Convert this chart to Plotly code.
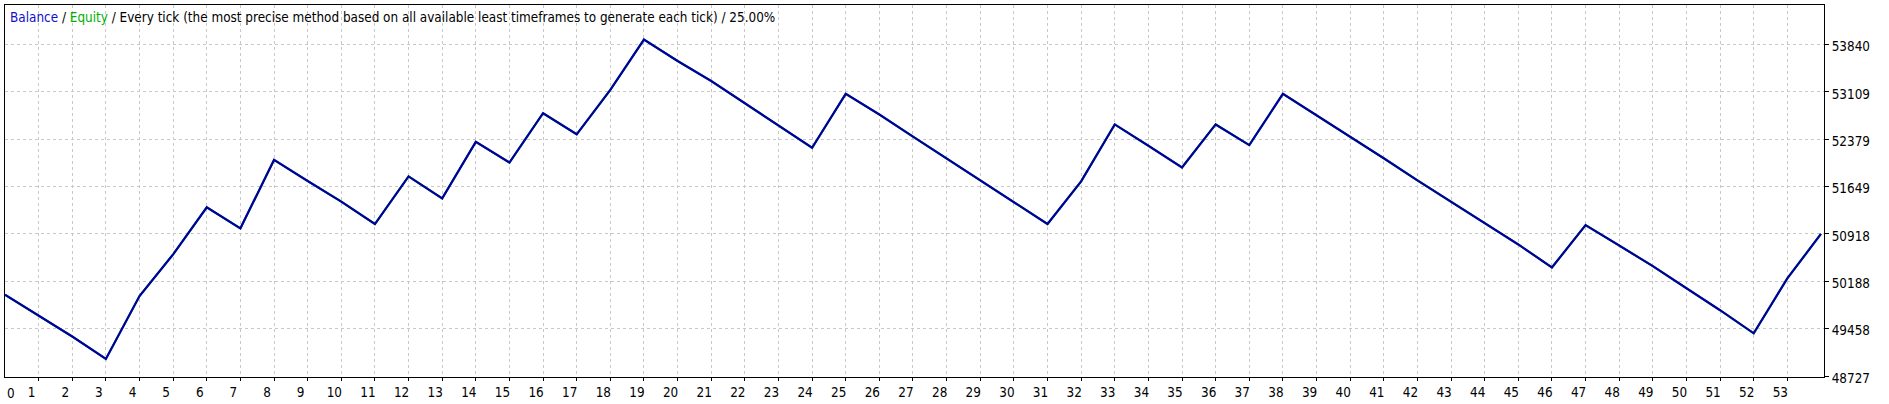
import plotly.graph_objects as go

# ---- data ----
trade_index = list(range(55))
balance = [49980, 49655, 49336, 48991, 49960, 50604, 51329, 51005, 52060, 51735,
           51416, 51071, 51806, 51466, 52339, 52019, 52780, 52455, 53140, 53916,
           53586, 53277, 52937, 52592, 52247, 53079, 52760, 52420, 52085, 51755,
           51416, 51071, 51729, 52607, 52278, 51943, 52607, 52288, 53079, 52749,
           52420, 52085, 51745, 51416, 51081, 50756, 50401, 51055, 50740, 50421,
           50081, 49742, 49386, 50234, 50918]
equity = [49980, 49655, 49336, 48991, 49960, 50604, 51329, 51005, 52060, 51735,
          51416, 51071, 51806, 51466, 52339, 52019, 52780, 52455, 53140, 53916,
          53586, 53277, 52937, 52592, 52247, 53079, 52760, 52420, 52085, 51755,
          51416, 51071, 51729, 52607, 52278, 51943, 52607, 52288, 53079, 52749,
          52420, 52085, 51745, 51416, 51081, 50756, 50401, 51055, 50740, 50421,
          50081, 49742, 49386, 50234, 50918]
x_ticks = list(range(1, 54))
y_ticks = [48727, 49458, 50188, 50918, 51649, 52379, 53109, 53840]
title_parts = ["Balance", "Equity",
               "Every tick (the most precise method based on all available least timeframes to generate each tick)",
               "25.00%"]

FONT = "Tahoma, 'DejaVu Sans Condensed', 'Liberation Sans', sans-serif"
FS = 13.4

fig = go.Figure()
fig.add_trace(go.Scatter(x=trade_index, y=equity, mode="lines",
                         line=dict(color="#00b000", width=2), name="Equity",
                         hoverinfo="skip"))
fig.add_trace(go.Scatter(x=trade_index, y=balance, mode="lines",
                         line=dict(color="#0000a0", width=2.2), name="Balance"))

title_html = (f"<span style='color:#1010c8'>{title_parts[0]}</span> / "
              f"<span style='color:#00b000'>{title_parts[1]}</span> / "
              f"{title_parts[2]} / {title_parts[3]}")
fig.add_annotation(text=title_html, xref="paper", yref="paper", x=0, y=1,
                   xanchor="left", yanchor="top", xshift=3, yshift=-3,
                   showarrow=False, font=dict(family=FONT, size=FS, color="#000000"))
fig.add_annotation(text="0", xref="paper", yref="paper", x=0, y=0,
                   xanchor="left", yanchor="middle", xshift=0, yshift=-16,
                   showarrow=False, font=dict(family=FONT, size=FS, color="#000000"))

fig.update_layout(
    width=1889, height=404,
    margin=dict(l=4, r=65, t=4, b=23),
    paper_bgcolor="#ffffff", plot_bgcolor="#ffffff",
    showlegend=False,
    font=dict(family=FONT, size=FS, color="#000000"),
)
fig.update_xaxes(range=[0, 54.09], tickvals=x_ticks, ticktext=[str(v) for v in x_ticks],
                 showgrid=True, gridcolor="#c8c8c8", griddash="3px,3px", gridwidth=1,
                 showline=True, linecolor="#000000", linewidth=1, mirror=True,
                 ticks="outside", ticklen=3, tickcolor="#000000",
                 ticklabelshift=-7, zeroline=False, fixedrange=True)
fig.update_yaxes(range=[48712, 54449], side="right", tickvals=y_ticks,
                 ticktext=[str(v) for v in y_ticks],
                 showgrid=True, gridcolor="#c8c8c8", griddash="3px,3px", gridwidth=1,
                 showline=True, linecolor="#000000", linewidth=1, mirror=True,
                 ticks="outside", ticklen=4, tickcolor="#000000",
                 ticklabelshift=2, zeroline=False, fixedrange=True)

fig.write_html("out.html", config={"displayModeBar": False},
               post_script="document.body.style.margin='0';document.documentElement.style.overflow='hidden';")
